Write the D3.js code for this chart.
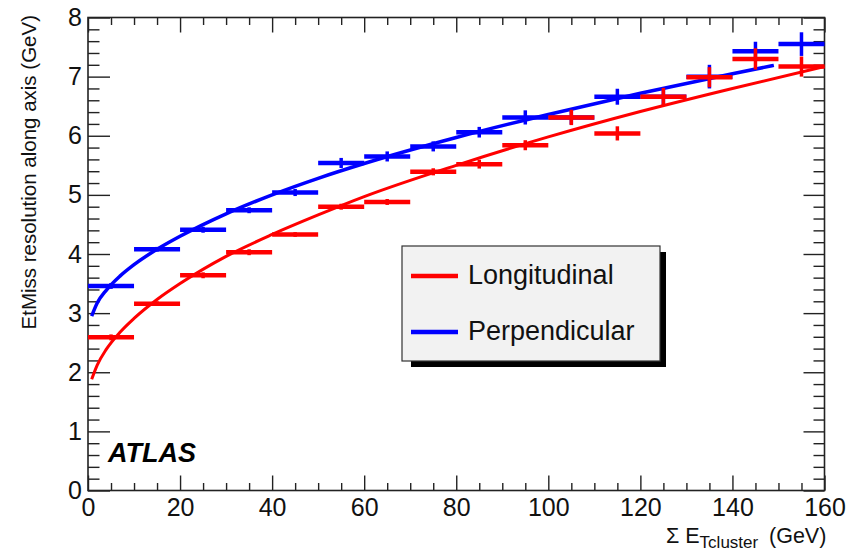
<!DOCTYPE html>
<html>
<head>
<meta charset="utf-8">
<script src="https://cdn.jsdelivr.net/npm/d3@7/dist/d3.min.js"></script>
<style>
  body { margin: 0; background: #fff; }
  svg { display: block; font-family: "Liberation Sans", Arial, Helvetica, sans-serif; }
</style>
</head>
<body>
<svg class="resolution"></svg>
<script>
// bin centres (GeV), each bin is 10 GeV wide
let binCentres = [5, 15, 25, 35, 45, 55, 65, 75, 85, 95, 105, 115, 125, 135, 145, 155];
let binHalfWidth = 5;

let longValues = [2.59, 3.16, 3.64, 4.03, 4.33, 4.80, 4.88, 5.39, 5.52, 5.84, 6.31, 6.04, 6.66, 6.99, 7.30, 7.17];
let longErrors = [0.05, 0.04, 0.05, 0.05, 0.04, 0.05, 0.05, 0.06, 0.075, 0.085, 0.13, 0.12, 0.15, 0.17, 0.18, 0.17];
let perpValues = [3.46, 4.08, 4.41, 4.74, 5.04, 5.54, 5.65, 5.82, 6.06, 6.31, 6.31, 6.66, 6.66, 7.00, 7.43, 7.55];
let perpErrors = [0.05, 0.04, 0.05, 0.05, 0.06, 0.085, 0.085, 0.085, 0.09, 0.12, 0.12, 0.135, 0.15, 0.2, 0.16, 0.2];

// fit curves, points
let longFitX = [0.8, 2, 4, 7, 10, 15, 20, 30, 40, 50, 60, 80, 100, 120, 140, 160];
let longFitY = [1.88, 2.12, 2.39, 2.68, 2.91, 3.23, 3.50, 3.96, 4.33, 4.66, 4.97, 5.50, 5.98, 6.41, 6.80, 7.17];
let perpFitX = [0.8, 2, 4, 7, 10, 15, 20, 30, 40, 50, 60, 80, 100, 120, 140, 149];
let perpFitY = [2.95, 3.17, 3.39, 3.63, 3.82, 4.08, 4.30, 4.68, 5.00, 5.28, 5.53, 5.97, 6.36, 6.72, 7.05, 7.19];

let xMajor = [0, 20, 40, 60, 80, 100, 120, 140, 160];
let yMajor = [0, 1, 2, 3, 4, 5, 6, 7, 8];
let legendNames = ["Longitudinal", "Perpendicular"];
let legendColors = ["#ff0000", "#0000ff"];

let width = 848;
let height = 552;
let frameL = 88, frameR = 824.5, frameT = 17.5, frameB = 490.5;

let svg = d3.select(".resolution").attr("width", width).attr("height", height);

let x = d3.scaleLinear().domain([0, 160]).range([frameL, frameR]);
let y = d3.scaleLinear().domain([0, 8]).range([frameB, frameT]);

let xMinor = d3.range(0, 161, 5).filter(function(v) { return v % 20 != 0; });
let yMinor = d3.range(0, 41, 1).filter(function(v) { return v % 5 != 0; }).map(function(v) { return v / 5; });

function styleAxis(g) {
  g.selectAll("line").attr("stroke", "#222").attr("stroke-width", 1.4);
  g.selectAll("path").remove();
  g.selectAll("text").attr("fill", "#111").style("font-size", "25px");
  g.attr("font-family", null).attr("font-size", null);
}

// bottom axis
svg.append("g").attr("transform", "translate(0," + frameB + ")")
  .call(d3.axisBottom(x).tickValues(xMajor).tickSize(-15).tickSizeOuter(0).tickPadding(8).tickFormat(d3.format("d")))
  .call(styleAxis);
svg.append("g").attr("transform", "translate(0," + frameB + ")")
  .call(d3.axisBottom(x).tickValues(xMinor).tickSize(-7.5).tickSizeOuter(0).tickFormat(""))
  .call(styleAxis);
// top axis
svg.append("g").attr("transform", "translate(0," + frameT + ")")
  .call(d3.axisTop(x).tickValues(xMajor).tickSize(-15).tickSizeOuter(0).tickFormat(""))
  .call(styleAxis);
svg.append("g").attr("transform", "translate(0," + frameT + ")")
  .call(d3.axisTop(x).tickValues(xMinor).tickSize(-7.5).tickSizeOuter(0).tickFormat(""))
  .call(styleAxis);
// left axis
svg.append("g").attr("transform", "translate(" + frameL + ",0)")
  .call(d3.axisLeft(y).tickValues(yMajor).tickSize(-22).tickSizeOuter(0).tickPadding(6).tickFormat(d3.format("d")))
  .call(styleAxis);
svg.append("g").attr("transform", "translate(" + frameL + ",0)")
  .call(d3.axisLeft(y).tickValues(yMinor).tickSize(-11.5).tickSizeOuter(0).tickFormat(""))
  .call(styleAxis);
// right axis
svg.append("g").attr("transform", "translate(" + frameR + ",0)")
  .call(d3.axisRight(y).tickValues(yMajor).tickSize(-21).tickSizeOuter(0).tickFormat(""))
  .call(styleAxis);
svg.append("g").attr("transform", "translate(" + frameR + ",0)")
  .call(d3.axisRight(y).tickValues(yMinor).tickSize(-11).tickSizeOuter(0).tickFormat(""))
  .call(styleAxis);

// frame
svg.append("rect")
  .attr("x", frameL).attr("y", frameT)
  .attr("width", frameR - frameL).attr("height", frameB - frameT)
  .attr("fill", "none").attr("stroke", "#222").attr("stroke-width", 1.6);

function drawSeries(values, errors, fitX, fitY, color, curveWidth) {
  let pts = binCentres.map(function(c, i) { return {"x": c, "v": values[i], "e": errors[i]}; });
  let g = svg.append("g");
  let fit = fitX.map(function(fx, i) { return [fx, fitY[i]]; });
  g.append("path")
    .datum(fit)
    .attr("d", d3.line().x(function(d) { return x(d[0]); }).y(function(d) { return y(d[1]); }).curve(d3.curveMonotoneX))
    .attr("fill", "none").attr("stroke", color).attr("stroke-width", curveWidth);
  g.selectAll(".hbar").data(pts).enter().append("line")
    .attr("x1", function(d) { return x(d.x - binHalfWidth); })
    .attr("x2", function(d) { return x(d.x + binHalfWidth); })
    .attr("y1", function(d) { return y(d.v); })
    .attr("y2", function(d) { return y(d.v); })
    .attr("stroke", color).attr("stroke-width", 4.5);
  g.selectAll(".vbar").data(pts).enter().append("line")
    .attr("x1", function(d) { return x(d.x); })
    .attr("x2", function(d) { return x(d.x); })
    .attr("y1", function(d) { return y(d.v - d.e); })
    .attr("y2", function(d) { return y(d.v + d.e); })
    .attr("stroke", color).attr("stroke-width", 3.5);
}

drawSeries(perpValues, perpErrors, perpFitX, perpFitY, legendColors[1], 3.5);
drawSeries(longValues, longErrors, longFitX, longFitY, legendColors[0], 3);

// legend
let lx = 402, ly = 246, lw = 258, lh = 115;
svg.append("rect").attr("x", lx + 9).attr("y", ly + 6).attr("width", lw - 3).attr("height", lh).attr("fill", "#000");
svg.append("rect").attr("x", lx).attr("y", ly).attr("width", lw).attr("height", lh)
  .attr("fill", "#f2f2f2").attr("stroke", "#333").attr("stroke-width", 1.2);
legendNames.forEach(function(name, i) {
  let yy = ly + 30 + i * 56;
  svg.append("line").attr("x1", lx + 9).attr("x2", lx + 56).attr("y1", yy).attr("y2", yy)
    .attr("stroke", legendColors[i]).attr("stroke-width", 4.5);
  svg.append("text").attr("x", lx + 66).attr("y", yy + 8).text(name)
    .style("font-size", "27px").attr("fill", "#111");
});

// ATLAS label
svg.append("text").attr("x", 108).attr("y", 462).text("ATLAS")
  .style("font-size", "27px").style("font-weight", "bold").style("font-style", "italic").attr("fill", "#000");

// axis titles
svg.append("text")
  .attr("transform", "translate(36,15) rotate(-90)")
  .attr("text-anchor", "end")
  .style("font-size", "20.5px").attr("fill", "#111")
  .text("EtMiss resolution along axis (GeV)");

let xt = svg.append("text").attr("x", 666).attr("y", 543).style("font-size", "21.5px").attr("fill", "#111");
xt.append("tspan").text("\u03A3 E");
xt.append("tspan").attr("dy", 5).style("font-size", "17px").text("Tcluster");
xt.append("tspan").attr("dy", -5).attr("x", 769).text("(GeV)");
</script>
</body>
</html>
